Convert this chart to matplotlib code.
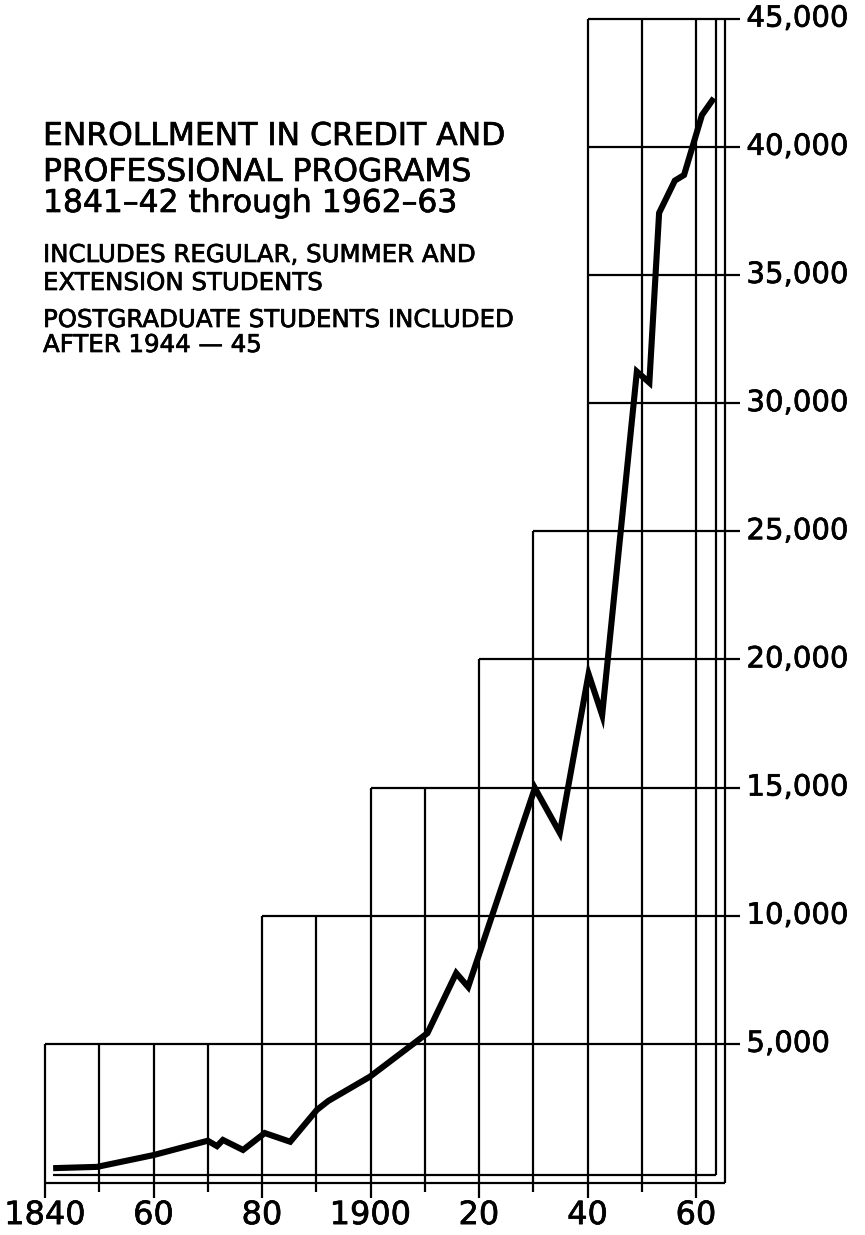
import matplotlib
matplotlib.use("Agg")
import matplotlib.pyplot as plt
import matplotlib.patheffects as pe

# Enrollment (academic year midpoints)
years = [1841.5, 1849.6, 1860.0, 1870.0, 1871.7, 1872.8, 1876.5, 1880.5, 1885.2,
         1890.1, 1892.2, 1899.9, 1910.5, 1915.8, 1918.0, 1930.3, 1934.9, 1940.2,
         1942.7, 1949.1, 1951.4, 1953.2, 1956.1, 1957.8, 1961.1, 1963.3]
enrollment = [150, 200, 660, 1220, 1010, 1250, 860, 1520, 1180,
              2420, 2770, 3720, 5420, 7760, 7220, 14980, 13230, 19430,
              17830, 31230, 30800, 37420, 38680, 38900, 41240, 41900]

y_ticks = [5000, 10000, 15000, 20000, 25000, 30000, 35000, 40000, 45000]
y_tick_labels = ["5,000", "10,000", "15,000", "20,000", "25,000",
                 "30,000", "35,000", "40,000", "45,000"]
x_ticks = [1840, 1860, 1880, 1900, 1920, 1940, 1960]
x_tick_labels = ["1840", "60", "80", "1900", "20", "40", "60"]

# staircase grid: each decade line goes up to this height,
# each horizontal line starts at this year
decades = [1840, 1850, 1860, 1870, 1880, 1890, 1900, 1910, 1920, 1930, 1940, 1950, 1960]
decade_tops = [5000, 5000, 5000, 5000, 10000, 10000, 15000, 15000, 20000, 25000,
               45000, 45000, 45000]
hline_starts = [1840, 1880, 1900, 1920, 1930, 1940, 1940, 1940, 1940]

plt.rcParams['font.family'] = ['DejaVu Sans']

W, H = 865, 1235
fig = plt.figure(figsize=(W / 100, H / 100), dpi=100)
ax = fig.add_axes([0, 0, 1, 1])
# pixel mapping: 1840 -> x=45, 5.425 px/yr ; 0 -> y=1172, 25.63 px per 1000
ax.set_xlim(1840 - 45 / 5.425, 1840 + (W - 45) / 5.425)
ax.set_ylim((1172 - H) / 0.02563, 1172 / 0.02563)
ax.axis("off")

lw_grid = 1.6
right_end = 1968.1
inner_right = 1963.7
outer_right = 1965.3

for x, top in zip(decades, decade_tops):
    bottom = -1000 if x in x_ticks else -780
    ax.vlines(x, bottom, top, color="black", lw=lw_grid)
for y, start in zip(y_ticks, hline_starts):
    ax.hlines(y, start, right_end, color="black", lw=lw_grid)

# double frame along the bottom and right
ax.hlines(-120, 1841.5, inner_right, color="black", lw=lw_grid)
ax.vlines(inner_right, -120, 45000, color="black", lw=lw_grid)
ax.hlines(-430, 1840, outer_right, color="black", lw=lw_grid)
ax.vlines(outer_right, -430, 45000, color="black", lw=lw_grid)

ax.plot(years, enrollment, color="black", lw=4.4, solid_joinstyle="miter",
        solid_capstyle="butt")

# pen-lettered look: thicken the glyphs a little
ink = [pe.withStroke(linewidth=0.5, foreground="black")]

for y, lab in zip(y_ticks, y_tick_labels):
    ax.text(1969.3, y, lab, fontsize=21, va="center", ha="left",
            path_effects=ink)
for x, lab in zip(x_ticks, x_tick_labels):
    ax.text(x, -1700, lab, fontsize=23, va="center", ha="center",
            path_effects=ink)


def px(x, y):
    return x / W, 1 - y / H


title = ["ENROLLMENT IN CREDIT AND", "PROFESSIONAL PROGRAMS",
         "1841\u201342 through 1962\u201363"]
for yb, line in zip([145, 181, 212], title):
    fig.text(*px(43, yb), line, fontsize=22.6, va="baseline", ha="left",
             path_effects=ink)

notes = [(262, "INCLUDES REGULAR, SUMMER AND"), (290, "EXTENSION STUDENTS"),
         (327, "POSTGRADUATE STUDENTS INCLUDED"), (352, "AFTER 1944 \u2014 45")]
for yb, line in notes:
    fig.text(*px(43, yb), line, fontsize=17.6, va="baseline", ha="left",
             path_effects=ink)

fig.savefig("out.png", dpi=100, facecolor="white")
